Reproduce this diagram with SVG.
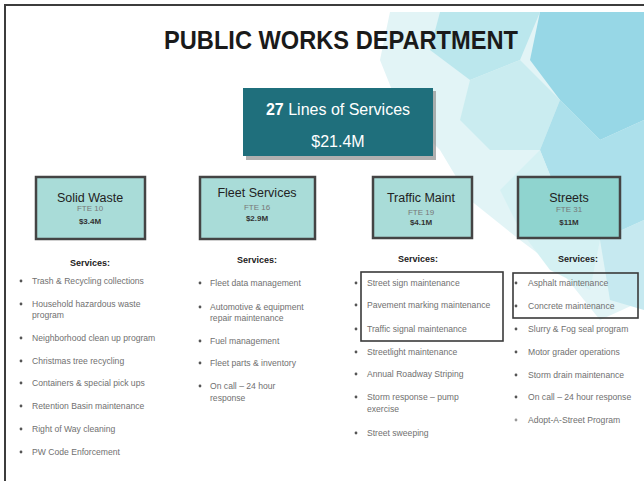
<svg xmlns="http://www.w3.org/2000/svg" width="644" height="481" viewBox="0 0 644 481">
  <style>
    .title { font-family: "Liberation Sans", Arial, sans-serif; font-weight: bold; font-size: 25px; fill: #1a1a1a; }
    .hdr { font-family: "Liberation Sans", Arial, sans-serif; font-size: 16px; fill: #ffffff; }
    .unit { fill: #a9dcd8; stroke: #444; stroke-width: 2.5; }
    .uname { font-family: "Liberation Sans", Arial, sans-serif; font-size: 12.5px; fill: #222; text-anchor: middle; }
    .fte { font-family: "Liberation Sans", Arial, sans-serif; font-size: 8px; fill: #777; text-anchor: middle; }
    .amt { font-family: "Liberation Sans", Arial, sans-serif; font-size: 8px; font-weight: bold; fill: #333; text-anchor: middle; }
    .svc { font-family: "Liberation Sans", Arial, sans-serif; font-size: 9px; font-weight: bold; fill: #222; text-anchor: middle; }
    .item { font-family: "Liberation Sans", Arial, sans-serif; font-size: 8.6px; fill: #707070; }
    .dot { fill: #555; }
    .hl { fill: none; stroke: #3a3a3a; stroke-width: 1.6; }
  </style>

  <!-- page -->
  <rect x="0" y="0" width="644" height="481" fill="#ffffff"/>

  <!-- decorative hexagon backdrop, upper right -->
  <g id="backdrop" opacity="0.7">
    <polygon points="390,12 644,12 644,300 600,320 560,270 520,240 470,200 440,150 400,110 380,60" fill="#d6f0f3"/>
    <polygon points="440,12 540,12 520,60 470,80 430,50" fill="#9fdde6"/>
    <polygon points="540,12 644,12 644,120 600,140 560,100 530,60" fill="#6cc7dc"/>
    <polygon points="470,80 520,60 560,100 540,150 490,150 460,120" fill="#b5e5ea"/>
    <polygon points="560,100 600,140 644,120 644,220 600,240 560,200 540,150" fill="#8ad3e3"/>
    <polygon points="540,150 560,200 600,240 590,290 550,270 520,230 500,190" fill="#c4ecef"/>
    <polygon points="600,240 644,220 644,310 610,300" fill="#aee1ea"/>
  </g>

  <!-- frame -->
  <g id="frame" fill="none" stroke="#3c3c3c" stroke-width="2">
    <polyline points="5,481 5,5 644,5"/>
  </g>

  <text class="title" x="341" y="49" text-anchor="middle" textLength="354" lengthAdjust="spacingAndGlyphs">PUBLIC WORKS DEPARTMENT</text>

  <!-- summary box -->
  <g id="summary">
    <rect x="246" y="91" width="190" height="69" fill="#8f8f8f" opacity="0.7"/>
    <rect x="243" y="88" width="190" height="68" fill="#1f6f7c"/>
    <text class="hdr" x="338" y="115" text-anchor="middle"><tspan font-weight="bold">27</tspan> Lines of Services</text>
    <text class="hdr" x="338" y="147" text-anchor="middle" font-size="14.5">$21.4M</text>
  </g>

  <g id="connectors"/>

  <!-- divisions -->
  <g id="solid-waste">
    <rect class="unit" x="36" y="177" width="109" height="62"/>
    <text class="uname" x="90" y="202">Solid Waste</text>
    <text class="fte" x="90" y="211">FTE 10</text>
    <text class="amt" x="90" y="224">$3.4M</text>
  </g>
  <g id="fleet-services">
    <rect class="unit" x="200" y="177" width="115" height="62"/>
    <text class="uname" x="257" y="197">Fleet Services</text>
    <text class="fte" x="257" y="210">FTE 16</text>
    <text class="amt" x="257" y="221">$2.9M</text>
  </g>
  <g id="traffic-maint">
    <rect class="unit" x="373" y="177" width="99" height="61"/>
    <text class="uname" x="421" y="202">Traffic Maint</text>
    <text class="fte" x="421" y="215">FTE 19</text>
    <text class="amt" x="421" y="225">$4.1M</text>
  </g>
  <g id="streets">
    <rect class="unit" x="518" y="177" width="102" height="61" style="fill:#8fd4cf"/>
    <text class="uname" x="569" y="202">Streets</text>
    <text class="fte" x="569" y="212">FTE 31</text>
    <text class="amt" x="569" y="225">$11M</text>
  </g>

  <!-- service lists -->
  <g id="solid-waste-services">
    <text class="svc" x="90" y="266">Services:</text>
    <circle class="dot" cx="21" cy="281" r="1.4"/><text class="item" x="32" y="284">Trash &amp; Recycling collections</text>
    <circle class="dot" cx="21" cy="304" r="1.4"/><text class="item" x="32" y="307">Household hazardous waste</text>
    <text class="item" x="32" y="318">program</text>
    <circle class="dot" cx="21" cy="338" r="1.4"/><text class="item" x="32" y="341">Neighborhood clean up program</text>
    <circle class="dot" cx="21" cy="361" r="1.4"/><text class="item" x="32" y="364">Christmas tree recycling</text>
    <circle class="dot" cx="21" cy="383" r="1.4"/><text class="item" x="32" y="386">Containers &amp; special pick ups</text>
    <circle class="dot" cx="21" cy="406" r="1.4"/><text class="item" x="32" y="409">Retention Basin maintenance</text>
    <circle class="dot" cx="21" cy="429" r="1.4"/><text class="item" x="32" y="432">Right of Way cleaning</text>
    <circle class="dot" cx="21" cy="452" r="1.4"/><text class="item" x="32" y="455">PW Code Enforcement</text>
  </g>

  <g id="fleet-services-list">
    <text class="svc" x="257" y="263">Services:</text>
    <circle class="dot" cx="200" cy="283" r="1.4"/><text class="item" x="210" y="286">Fleet data management</text>
    <circle class="dot" cx="200" cy="307" r="1.4"/><text class="item" x="210" y="310">Automotive &amp; equipment</text>
    <text class="item" x="210" y="321">repair maintenance</text>
    <circle class="dot" cx="200" cy="341" r="1.4"/><text class="item" x="210" y="344">Fuel management</text>
    <circle class="dot" cx="200" cy="363" r="1.4"/><text class="item" x="210" y="366">Fleet parts &amp; inventory</text>
    <circle class="dot" cx="200" cy="386" r="1.4"/><text class="item" x="210" y="389">On call – 24 hour</text>
    <text class="item" x="210" y="401">response</text>
  </g>

  <g id="traffic-maint-services">
    <text class="svc" x="418" y="262">Services:</text>
    <rect class="hl" x="361" y="272" width="142" height="69"/>
    <circle class="dot" cx="356" cy="283" r="1.4"/><text class="item" x="367" y="286">Street sign maintenance</text>
    <circle class="dot" cx="356" cy="305" r="1.4"/><text class="item" x="367" y="308">Pavement marking maintenance</text>
    <circle class="dot" cx="356" cy="329" r="1.4"/><text class="item" x="367" y="332">Traffic signal maintenance</text>
    <circle class="dot" cx="356" cy="352" r="1.4"/><text class="item" x="367" y="355">Streetlight maintenance</text>
    <circle class="dot" cx="356" cy="374" r="1.4"/><text class="item" x="367" y="377">Annual Roadway Striping</text>
    <circle class="dot" cx="356" cy="397" r="1.4"/><text class="item" x="367" y="400">Storm response – pump</text>
    <text class="item" x="367" y="412">exercise</text>
    <circle class="dot" cx="356" cy="433" r="1.4"/><text class="item" x="367" y="436">Street sweeping</text>
  </g>

  <g id="streets-services">
    <text class="svc" x="578" y="262">Services:</text>
    <rect class="hl" x="513" y="273" width="125" height="45"/>
    <circle class="dot" cx="516" cy="283" r="1.4"/><text class="item" x="528" y="286">Asphalt maintenance</text>
    <circle class="dot" cx="516" cy="306" r="1.4"/><text class="item" x="528" y="309">Concrete maintenance</text>
    <circle class="dot" cx="516" cy="329" r="1.4"/><text class="item" x="528" y="332">Slurry &amp; Fog seal program</text>
    <circle class="dot" cx="516" cy="352" r="1.4"/><text class="item" x="528" y="355">Motor grader operations</text>
    <circle class="dot" cx="516" cy="375" r="1.4"/><text class="item" x="528" y="378">Storm drain maintenance</text>
    <circle class="dot" cx="516" cy="397" r="1.4"/><text class="item" x="528" y="400">On call – 24 hour response</text>
    <circle class="dot" cx="516" cy="420" r="1.4" style="fill:#999"/><text class="item" x="528" y="423">Adopt-A-Street Program</text>
  </g>
</svg>
